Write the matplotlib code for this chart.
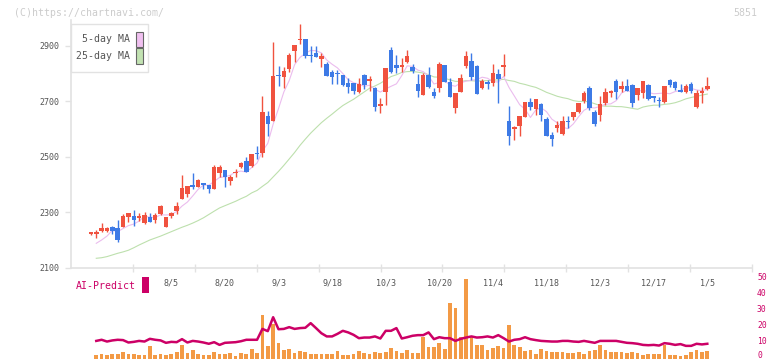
import numpy as np
import pandas as pd
import matplotlib
matplotlib.use("Agg")
import matplotlib.pyplot as plt
from matplotlib.patches import Rectangle
from matplotlib.transforms import ScaledTranslation

# ---------------- data ----------------
opens = [2223, 2220, 2232, 2233, 2247, 2242, 2248, 2284, 2287, 2279,
         2262, 2282, 2272, 2294, 2248, 2287, 2305, 2348, 2366, 2396,
         2392, 2402, 2398, 2384, 2443, 2452, 2414, 2440, 2464, 2485,
         2467, 2515, 2515, 2647, 2629, 2793, 2789, 2816, 2882, 2920,
         2925, 2866, 2876, 2852, 2835, 2807, 2800, 2795, 2765, 2765,
         2735, 2795, 2775, 2749, 2685, 2735, 2886, 2831, 2826, 2843,
         2825, 2763, 2723, 2795, 2733, 2749, 2831, 2771, 2677, 2735,
         2829, 2846, 2828, 2749, 2766, 2765, 2799, 2826, 2629, 2599,
         2611, 2645, 2699, 2673, 2691, 2637, 2579, 2605, 2582, 2628,
         2645, 2663, 2701, 2749, 2663, 2651, 2695, 2731, 2774, 2745,
         2756, 2759, 2723, 2731, 2759, 2720, 2703, 2699, 2777, 2769,
         2741, 2733, 2763, 2681, 2729, 2745]
highs = [2227, 2236, 2260, 2248, 2251, 2272, 2294, 2297, 2308, 2296,
         2301, 2298, 2298, 2326, 2284, 2301, 2338, 2434, 2395, 2441,
         2421, 2406, 2398, 2470, 2470, 2452, 2434, 2455, 2480, 2500,
         2512, 2539, 2719, 2665, 2915, 2828, 2825, 2873, 2903, 2979,
         2925, 2900, 2900, 2873, 2843, 2813, 2813, 2795, 2783, 2765,
         2783, 2799, 2792, 2752, 2713, 2820, 2897, 2867, 2855, 2886,
         2834, 2799, 2804, 2825, 2747, 2843, 2833, 2783, 2731, 2799,
         2882, 2876, 2830, 2780, 2777, 2834, 2817, 2871, 2683, 2611,
         2647, 2699, 2713, 2709, 2695, 2643, 2591, 2629, 2647, 2647,
         2661, 2695, 2737, 2756, 2669, 2720, 2747, 2741, 2781, 2774,
         2781, 2763, 2747, 2774, 2763, 2720, 2717, 2756, 2781, 2774,
         2763, 2763, 2769, 2741, 2751, 2787]
lows = [2219, 2206, 2230, 2230, 2223, 2194, 2248, 2266, 2250, 2270,
        2258, 2266, 2262, 2291, 2247, 2280, 2293, 2347, 2356, 2384,
        2390, 2383, 2368, 2384, 2428, 2392, 2398, 2426, 2460, 2446,
        2462, 2491, 2498, 2576, 2629, 2757, 2747, 2805, 2843, 2906,
        2858, 2843, 2861, 2825, 2793, 2762, 2762, 2757, 2731, 2727,
        2731, 2744, 2739, 2665, 2659, 2687, 2801, 2804, 2807, 2837,
        2801, 2715, 2723, 2747, 2711, 2735, 2770, 2717, 2659, 2735,
        2819, 2777, 2727, 2746, 2744, 2756, 2695, 2792, 2543, 2561,
        2575, 2643, 2669, 2651, 2630, 2575, 2539, 2591, 2579, 2603,
        2633, 2658, 2695, 2669, 2611, 2629, 2687, 2717, 2709, 2735,
        2738, 2681, 2705, 2713, 2705, 2699, 2681, 2695, 2753, 2742,
        2733, 2731, 2729, 2677, 2695, 2741]
closes = [2225, 2230, 2244, 2243, 2233, 2200, 2287, 2296, 2272, 2286,
          2290, 2266, 2290, 2323, 2282, 2298, 2323, 2386, 2395, 2393,
          2416, 2400, 2384, 2464, 2464, 2428, 2428, 2444, 2479, 2446,
          2510, 2509, 2661, 2617, 2792, 2791, 2810, 2867, 2903, 2922,
          2865, 2864, 2861, 2864, 2793, 2789, 2798, 2759, 2753, 2739,
          2763, 2759, 2778, 2681, 2688, 2819, 2807, 2822, 2830, 2864,
          2810, 2739, 2795, 2751, 2720, 2835, 2771, 2717, 2731, 2783,
          2864, 2789, 2727, 2774, 2764, 2804, 2781, 2829, 2575, 2609,
          2647, 2699, 2681, 2709, 2651, 2575, 2564, 2615, 2629, 2625,
          2661, 2695, 2731, 2677, 2618, 2691, 2733, 2737, 2735, 2756,
          2738, 2695, 2747, 2774, 2709, 2713, 2701, 2756, 2759, 2749,
          2733, 2756, 2738, 2731, 2737, 2756]

# moving-average values at the left edge (window reaches before the chart)
ma5_head = [np.nan, 2188, 2200, 2214]
ma25_head = [np.nan, 2134, 2136, 2140, 2146, 2152, 2157, 2163, 2172, 2182,
             2191, 2200, 2207, 2214, 2222, 2230, 2238, 2246, 2253, 2261,
             2270, 2280, 2292, 2304]

date_idx = [15, 25, 35, 45, 55, 65, 75, 85, 95, 105, 115]
date_labels = ["8/5", "8/20", "9/3", "9/18", "10/3", "10/20", "11/4",
               "11/18", "12/3", "12/17", "1/5"]

ai_bars = [2.3, 2.9, 2.3, 2.9, 2.9, 4.2, 2.9, 2.9, 2.3, 2.3,
           7.9, 2.3, 2.9, 2.3, 2.9, 4.2, 8.5, 3.5, 5.4, 2.9,
           2.3, 2.3, 4.2, 2.9, 2.9, 3.5, 1.7, 3.5, 2.9, 6.0,
           3.5, 27.3, 7.9, 21.7, 9.8, 5.4, 6.0, 3.5, 4.8, 4.2,
           2.9, 2.9, 2.9, 2.9, 2.9, 4.8, 2.3, 2.3, 2.9, 4.8,
           3.5, 2.9, 4.2, 3.5, 4.2, 6.7, 4.8, 3.5, 5.4, 3.5,
           3.5, 13.5, 7.3, 7.3, 9.8, 6.0, 34.8, 31.7, 13.5, 49.8,
           13.5, 8.5, 8.5, 5.4, 6.7, 7.9, 6.7, 21.0, 8.5, 7.3,
           4.8, 5.4, 2.9, 6.0, 4.8, 4.2, 4.2, 4.2, 3.5, 3.5,
           4.2, 2.9, 4.8, 5.4, 8.5, 5.4, 4.2, 4.2, 4.2, 3.5,
           4.2, 3.5, 2.3, 2.9, 2.9, 2.9, 8.5, 2.3, 2.3, 1.7,
           2.3, 4.2, 5.4, 4.2, 4.8]
ai_line = [11.0, 11.7, 10.6, 11.3, 11.7, 11.5, 10.0, 10.4, 11.0, 10.6,
           12.3, 11.7, 11.3, 9.8, 10.4, 10.2, 12.1, 10.0, 11.0, 10.6,
           10.0, 9.2, 10.2, 8.5, 9.8, 10.0, 10.2, 10.8, 11.7, 11.7,
           11.7, 18.5, 17.1, 25.8, 18.3, 18.5, 19.6, 18.5, 19.0, 19.2,
           22.1, 19.0, 15.8, 13.8, 13.8, 15.4, 17.3, 16.3, 14.8, 12.7,
           13.1, 13.1, 13.8, 12.5, 17.3, 17.3, 19.0, 12.5, 13.3, 14.2,
           14.6, 14.6, 16.3, 12.1, 13.3, 12.7, 12.7, 11.0, 12.3, 13.1,
           13.8, 13.1, 13.3, 13.8, 13.1, 14.6, 12.7, 10.6, 11.7, 12.1,
           13.3, 12.1, 11.5, 11.0, 10.8, 10.6, 10.6, 11.0, 11.0, 10.6,
           10.4, 11.0, 10.4, 9.8, 11.0, 11.0, 11.0, 11.0, 10.4, 9.8,
           9.6, 9.2, 8.5, 8.3, 8.5, 8.1, 9.6, 9.2, 8.5, 9.0,
           7.9, 7.9, 9.2, 8.8, 9.2]

# ---------------- styling ----------------
UP = "#f0523f"
DOWN = "#3d7ae6"
MA5_C = "#ebbcee"
MA25_C = "#bde0ad"
AXIS_C = "#e2e2e2"
TXT_C = "#555555"
MAG = "#cc0066"
ORANGE = "#f39a45"
MONO = "DejaVu Sans Mono"

W, H = 772, 361
fig = plt.figure(figsize=(W / 100, H / 100), dpi=100)

AX_L, AX_R = 71, 752
TOP_Y, BOT_Y = 20, 267.7
X0_PX, STEP_PX = 90.9, 5.36
PX_PER_PRICE = 221.7 / 800.0

ax = fig.add_axes([AX_L / W, 1 - BOT_Y / H, (AX_R - AX_L) / W, (BOT_Y - TOP_Y) / H])
xlim = ((AX_L - X0_PX) / STEP_PX, (AX_R - X0_PX) / STEP_PX)
ax.set_xlim(*xlim)
ax.set_ylim(2100, 2100 + (BOT_Y - TOP_Y) / PX_PER_PRICE)

o = np.array(opens, float)
h = np.array(highs, float)
l = np.array(lows, float)
c = np.array(closes, float)
x = np.arange(len(c))

# moving averages
cs = pd.Series(c)
ma5 = cs.rolling(5).mean().to_numpy()
ma5[:len(ma5_head)] = ma5_head
ma25 = cs.rolling(25).mean().to_numpy()
ma25[:len(ma25_head)] = ma25_head
ax.plot(x, ma25, color=MA25_C, lw=0.8, zorder=1)
ax.plot(x, ma5, color=MA5_C, lw=0.8, zorder=1)

colors = [UP if cc >= oo else DOWN for oo, cc in zip(o, c)]
ax.vlines(x, l, h, colors=colors, lw=1.0, zorder=2)
bottom = np.minimum(o, c)
height = np.maximum(np.abs(c - o), 4.5)
ax.bar(x, height, bottom=bottom, width=0.84, color=colors, linewidth=0, zorder=3)

for s in ["top", "right"]:
    ax.spines[s].set_visible(False)
for s in ["left", "bottom"]:
    ax.spines[s].set_color(AXIS_C)
    ax.spines[s].set_linewidth(1.2)

ax.set_yticks([2100, 2300, 2500, 2700, 2900])
ax.tick_params(axis="y", length=4.3, width=1.0, color=AXIS_C, labelsize=6,
               labelcolor=TXT_C, pad=4.3)
for t in ax.get_yticklabels():
    t.set_family(MONO)

xt = [(AX_L + k * (AX_R - AX_L) / 11 - X0_PX) / STEP_PX for k in range(1, 12)]
ax.set_xticks(xt)
ax.set_xticklabels([])
ax.tick_params(axis="x", direction="inout", length=6, width=1.0, color=AXIS_C)

trans = ax.get_xaxis_transform()
for i, lab in zip(date_idx, date_labels):
    ax.text(i, (BOT_Y - 282.5) / (BOT_Y - TOP_Y), lab, transform=trans,
            ha="center", va="center", fontsize=6, color=TXT_C, family=MONO,
            clip_on=False)

# legend box
fig.patches.append(Rectangle((AX_L / W, 1 - 71.7 / H), (148.3 - AX_L) / W, (71.7 - 24) / H,
                             transform=fig.transFigure, facecolor="white",
                             edgecolor=AXIS_C, lw=1.0, zorder=5))
for yy, lab, col in [(39.5, "5-day MA", "#f0c0f0"), (56.0, "25-day MA", "#c2e2b2")]:
    fig.text(129.5 / W, 1 - yy / H, lab, ha="right", va="center", fontsize=7.1,
             color=TXT_C, family=MONO, zorder=6)
    fig.patches.append(Rectangle((136.3 / W, 1 - (yy + 7.5) / H), 6.2 / W, 15 / H,
                                 transform=fig.transFigure, facecolor=col,
                                 edgecolor="#666666", lw=0.8, zorder=6))

# watermark
fig.text(14 / W, 1 - 12.5 / H, "(C)https://chartnavi.com/", fontsize=7.1,
         color="#cccccc", family=MONO, va="center", ha="left")
fig.text(757 / W, 1 - 12.5 / H, "5851", fontsize=7.1, color="#cccccc",
         family=MONO, va="center", ha="right")

# ---------------- AI predict panel ----------------
ZERO_Y, FIFTY_Y = 358.5, 278.5
ax2 = fig.add_axes([AX_L / W, 1 - ZERO_Y / H, (AX_R - AX_L) / W, (ZERO_Y - FIFTY_Y) / H])
ax2.set_xlim(*xlim)
ax2.set_ylim(0, 50)
for s in ax2.spines.values():
    s.set_visible(False)
ax2.set_xticks([])
ax2.set_yticks([])
ax2.patch.set_alpha(0)

# right-hand scale labels of the AI panel
ytrans = ax2.get_yaxis_transform()
for v in [0, 10, 20, 30, 40, 50]:
    shift = ScaledTranslation(0, (3.2 if v == 0 else 1.0) / 100, fig.dpi_scale_trans)
    ax2.text(1 + 5 / (AX_R - AX_L), v, str(v), transform=ytrans + shift,
             ha="left", va="center", fontsize=5.8, color=MAG, family=MONO,
             clip_on=False)

x2 = np.arange(1, 1 + len(ai_bars))
ax2.bar(x2, ai_bars, width=0.69, color=ORANGE, linewidth=0, zorder=2)
ax2.plot(np.arange(1, 1 + len(ai_line)), ai_line, color=MAG, lw=1.8, zorder=3,
         clip_on=False)

fig.text(76 / W, 1 - 286 / H, "AI-Predict", fontsize=7.1, color=MAG, family=MONO,
         va="center", ha="left")
fig.patches.append(Rectangle((142.3 / W, 1 - 292.7 / H), 6.7 / W, 15.4 / H,
                             transform=fig.transFigure, facecolor=MAG,
                             edgecolor="none"))

fig.savefig("out.png", dpi=100)
